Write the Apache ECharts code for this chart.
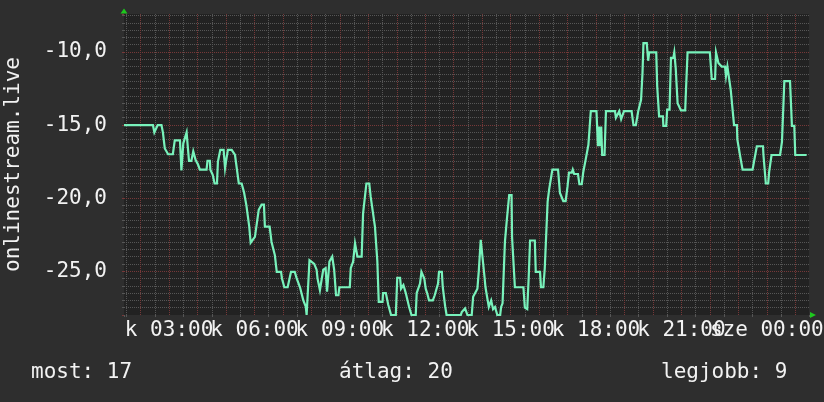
<!DOCTYPE html>
<html><head><meta charset="utf-8">
<script src="https://cdn.jsdelivr.net/npm/echarts@6/dist/echarts.min.js"></script>
<style>html,body{margin:0;padding:0;background:#2e2e2e}#c{width:824px;height:402px}</style>
</head><body><div id="c"></div>
<script>
// sample times, minutes since Tuesday (k) 00:00
const timeMinutes = [
  85,146,149,153,156,164,167,171,175,178,188,192,203,206,210,217,219,222,227,231,
  234,236,241,245,259,261,266,267,272,276,281,283,288,295,298,301,304,312,319,322,
  327,333,338,343,347,349,352,356,361,369,375,380,382,392,396,399,403,405,407,416,
  418,420,423,430,434,437,445,449,452,456,463,466,468,470,474,476,480,486,491,493,
  498,501,505,507,510,513,515,518,520,524,528,532,537,539,561,563,568,572,575,577,
  586,589,593,596,602,605,610,614,616,619,622,630,631,637,642,648,658,661,667,669,
  674,679,682,686,691,700,702,705,709,712,716,718,721,724,728,736,740,744,747,749,
  755,757,758,762,765,795,797,804,806,809,818,821,825,830,833,837,841,845,847,851,
  854,859,861,863,867,872,878,880,883,886,888,890,892,895,897,902,903,907,909,927,
  930,935,938,941,951,953,962,964,969,972,976,978,981,985,988,1000,1004,1008,1011,1016,
  1020,1023,1029,1031,1034,1042,1045,1050,1053,1057,1058,1062,1064,1067,1069,1081,1084,1086,1088,1091,
  1093,1098,1099,1101,1120,1122,1126,1129,1131,1133,1136,1139,1155,1159,1164,1169,1173,1175,1178,1180,
  1187,1190,1192,1207,1209,1213,1221,1222,1228,1230,1235,1238,1243,1245,1248,1250,1252,1256,1259,1268,
  1270,1273,1320,1324,1331,1333,1336,1338,1342,1345,1352,1354,1357,1361,1364,1368,1371,1377,1378,1382,
  1384,1387,1389,1410,1412,1415,1419,1432,1433,1436,1438,1443,1445,1448,1450,1468,1472,1475,1477,1489,
  1493,1498,1500,1524
];
const rankValues = [
  -15,-15,-15.5,-15.5,-15,-15,-15.5,-16.6,-16.6,-17,-17,-16.05,-16.05,-18.1,-16.25,-15.5,-16.3,-17.45,-17.45,-16.8,
  -16.8,-17.4,-17.7,-18.05,-18.05,-17.45,-17.45,-18.05,-18.4,-19,-19,-17.5,-16.7,-16.7,-17.95,-17.3,-16.7,-16.7,-17.05,-17.05,
  -19,-19,-19.6,-20.5,-20.5,-21.95,-23.05,-23.05,-22.65,-20.8,-20.45,-20.45,-21.95,-21.95,-23,-23,-23.9,-23.9,-25.05,-25.05,
  -25.5,-25.5,-26.1,-26.1,-25.5,-25.05,-25.05,-25.5,-25.5,-26.1,-27,-27,-27.4,-28,-28,-24.25,-24.25,-24.5,-24.9,-25.5,
  -26.3,-26.3,-24.9,-24.8,-24.8,-26.4,-26.4,-24.35,-24.35,-24,-24.9,-26.65,-26.65,-26.1,-26.1,-24.8,-24.35,-23.1,-23.1,-24,
  -24,-21.05,-21.05,-19,-19,-19.9,-21.05,-21.95,-21.95,-24.3,-27.1,-27.1,-26.5,-26.5,-27.3,-28,-28,-25.45,-25.45,-26.2,
  -25.95,-26.5,-26.5,-27.45,-28,-28,-26.5,-26.5,-25.85,-25.05,-25.05,-25.5,-26.2,-26.5,-27,-27,-26.65,-26.65,-25.85,-25.05,
  -25.05,-26.1,-26.1,-27.4,-28,-28,-27.8,-27.55,-27.55,-28,-28,-26.75,-26.75,-26.2,-24.95,-22.85,-22.85,-25.4,-26.1,-26.1,
  -27.45,-27,-27,-27.6,-27.45,-28,-28,-27.45,-27.2,-27.2,-23,-23,-21.5,-21.5,-19.8,-19.8,-22.65,-22.65,-26.1,-26.1,
  -27.5,-27.6,-25.5,-22.9,-22.9,-25.05,-25.05,-26.1,-26.1,-24.8,-24.8,-20.25,-19.45,-19.45,-18.05,-18.05,-19.65,-19.65,-20.2,-20.2,
  -19.2,-18.25,-18.25,-18.05,-18.35,-18.35,-19.05,-19.05,-18.25,-18.25,-17.4,-17.4,-16.35,-16.35,-14.05,-14.05,-16.45,-15.1,-16.45,-15.1,
  -17.05,-17.05,-16,-14.05,-14.05,-14.5,-14.5,-14.05,-14.05,-14.6,-14.6,-14.05,-14.05,-15,-15,-14.05,-14.05,-13.27,-11.45,-9.4,
  -9.4,-10.6,-10.03,-10.03,-12.35,-14.4,-14.4,-15.05,-15.05,-13.95,-13.95,-10.4,-10.4,-10.03,-11.1,-11.1,-13.5,-13.5,-14,-14,
  -12.35,-10.03,-10.03,-11.85,-11.85,-10.03,-10.03,-10.75,-10.75,-11,-11,-11.65,-11,-11,-12.6,-12.6,-15,-15,-16,-16,
  -17.15,-17.15,-18.05,-18.05,-17.7,-17.7,-16.45,-16.45,-17.05,-17.05,-19,-19,-18.2,-18.2,-17.05,-17.05,-16.15,-16.15,-12,-12,
  -15.05,-15.05,-17.05,-17.05
];
const xTickHours = [3, 6, 9, 12, 15, 18, 21, 24];
const xTickLabels = ['k 03:00', 'k 06:00', 'k 09:00', 'k 12:00', 'k 15:00', 'k 18:00', 'k 21:00', 'sze 00:00'];
const hourGridLines = [2, 3, 4, 5, 6, 7, 8, 9, 10, 11, 12, 13, 14, 15, 16, 17, 18, 19, 20, 21, 22, 23, 24, 25];
const yTickValues = [-25, -20, -15, -10];
const yTickLabels = ['-25,0', '-20,0', '-15,0', '-10,0'];
const axisTitle = 'onlinestream.live';
const summaryLabels = ['most', 'átlag', 'legjobb'];
const summaryValues = [17, 20, 9];
const xStartMinute = 85, xEndMinute = 1529;
const yMin = -28, yMax = -7.4;

const FONT = 'DejaVu Sans Mono';
const MAJOR = '#763838';
const MINOR = '#565656';
const TEXT = '#f2f2f2';
const ARROW = '#1ec81e';

function lookup(keys, labels, v) {
  for (let i = 0; i < keys.length; i++) if (Math.abs(keys[i] - v) < 1e-6) return labels[i];
  return '';
}

const seriesData = timeMinutes.map((m, i) => [m / 60, rankValues[i]]);
const xMin = xStartMinute / 60, xMax = xEndMinute / 60;

const chart = echarts.init(document.getElementById('c'), null, {renderer: 'canvas'});
chart.setOption({
  backgroundColor: '#2e2e2e',
  animation: false,
  grid: {left: 124, right: 15, top: 14, bottom: 87, show: true, backgroundColor: '#222222', borderWidth: 0, outerBoundsMode: 'none', containLabel: false},
  xAxis: [
    {
      // half-hour minor grid: axis counted in (hours - 0.5), so its whole-number ticks fall on hh:30
      type: 'value', min: xMin - 0.5, max: xMax - 0.5, splitNumber: 24, position: 'bottom', z: 1,
      axisLine: {show: false},
      axisTick: {show: true, length: 2, lineStyle: {color: MINOR}},
      axisLabel: {show: false},
      splitLine: {show: true, showMinLine: false, showMaxLine: false, lineStyle: {color: MINOR, type: [1, 1], width: 1}}
    },
    {
      // labels every 3 hours + arrow
      type: 'value', min: xMin, max: xMax, splitNumber: 24, position: 'bottom', z: 5,
      axisLine: {show: true, lineStyle: {color: ARROW, width: 0}, symbol: ['none', 'triangle'], symbolSize: [6, 6], symbolOffset: [0, 4]},
      axisTick: {show: false},
      axisLabel: {
        margin: 5, color: TEXT, fontFamily: FONT, fontSize: 21, hideOverlap: false,
        formatter: v => lookup(xTickHours, xTickLabels, v)
      },
      splitLine: {show: false}
    }
  ],
  yAxis: [
    {
      type: 'value', min: yMin, max: yMax, splitNumber: 40, position: 'left', z: 1,
      axisLine: {show: false},
      axisTick: {show: true, length: 2, lineStyle: {color: MINOR}},
      axisLabel: {show: false},
      splitLine: {show: true, showMinLine: false, showMaxLine: false, lineStyle: {color: MINOR, type: [1, 1], width: 1}}
    },
    {
      type: 'value', min: yMin, max: yMax, splitNumber: 4, position: 'left', z: 5,
      axisLine: {show: true, lineStyle: {color: ARROW, width: 0}, symbol: ['none', 'triangle'], symbolSize: [7, 5], symbolOffset: [0, 3]},
      axisTick: {show: true, length: 2, lineStyle: {color: MAJOR}},
      axisLabel: {
        margin: 17, color: TEXT, fontFamily: FONT, fontSize: 21,
        formatter: v => lookup(yTickValues, yTickLabels, v)
      },
      name: axisTitle, nameLocation: 'middle', nameGap: 100,
      nameTextStyle: {color: TEXT, fontFamily: FONT, fontSize: 21},
      splitLine: {show: true, showMinLine: false, showMaxLine: false, lineStyle: {color: MAJOR, type: [1, 1], width: 1}}
    }
  ],
  series: [{
    type: 'line', xAxisIndex: 1, yAxisIndex: 1, data: seriesData,
    showSymbol: false, symbol: 'none', z: 10,
    lineStyle: {color: '#78f2bb', width: 2.2, join: 'miter'},
    markLine: {
      silent: true, symbol: ['none', 'none'], z: 2, animation: false,
      label: {show: false},
      lineStyle: {color: MAJOR, type: [1, 1], width: 1, opacity: 1},
      emphasis: {disabled: true},
      data: hourGridLines.map(h => ({xAxis: h}))
    }
  }],
  graphic: [
    {type: 'text', left: 31, top: 362, style: {text: summaryLabels[0] + ': ' + summaryValues[0], fill: TEXT, font: '21px "DejaVu Sans Mono"'}},
    {type: 'text', left: 339, top: 362, style: {text: summaryLabels[1] + ': ' + summaryValues[1], fill: TEXT, font: '21px "DejaVu Sans Mono"'}},
    {type: 'text', left: 661, top: 362, style: {text: summaryLabels[2] + ': ' + summaryValues[2], fill: TEXT, font: '21px "DejaVu Sans Mono"'}}
  ]
});
</script></body></html>
